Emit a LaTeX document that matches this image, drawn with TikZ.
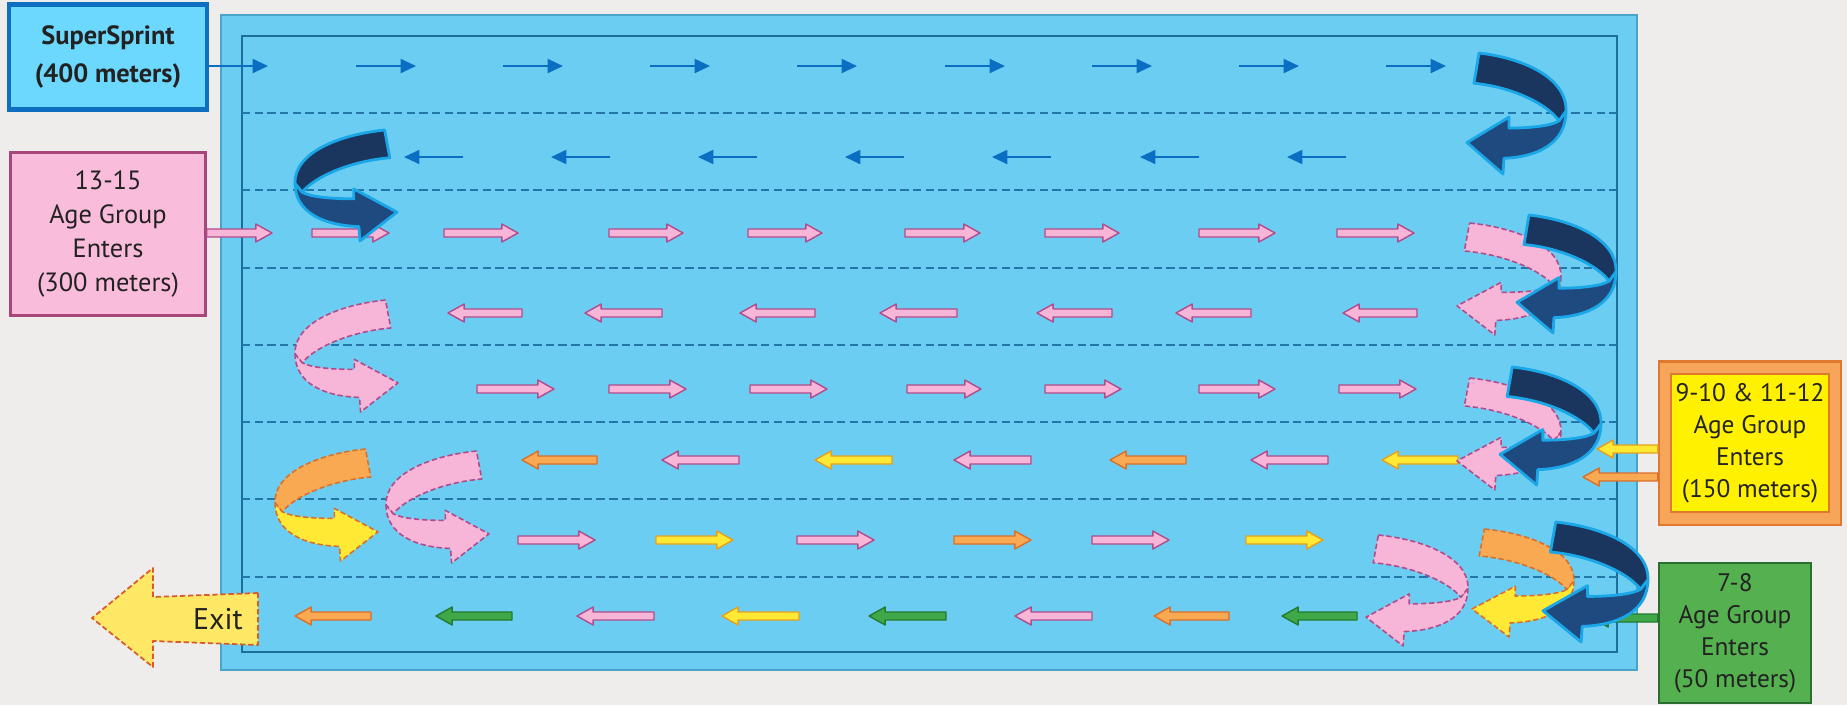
\documentclass[tikz,border=0pt]{standalone}
\usepackage{fontspec}
\setmainfont{PT Sans}
\usepackage{tikz}
\usetikzlibrary{calc,arrows.meta}

\definecolor{bg}{HTML}{EEEDEB}
\definecolor{pool}{HTML}{6CCDF2}
\definecolor{pooledge}{HTML}{4AA3C8}
\definecolor{poolline}{HTML}{1E6E9C}
\definecolor{laneblue}{HTML}{2576A8}
\definecolor{arrowblue}{HTML}{0A6FC2}
\definecolor{navyA}{HTML}{1A365F}
\definecolor{navyB}{HTML}{1F4A80}
\definecolor{navyline}{HTML}{1AA7E8}
\definecolor{pk}{HTML}{F7B5D7}
\definecolor{pkline}{HTML}{B04C8C}
\definecolor{orA}{HTML}{F8A951}
\definecolor{orline}{HTML}{D9702C}
\definecolor{ye}{HTML}{FFE935}
\definecolor{yeline}{HTML}{E5A020}
\definecolor{gr}{HTML}{3FA849}
\definecolor{grline}{HTML}{237A30}
\definecolor{superfill}{HTML}{6DD8FE}
\definecolor{superline}{HTML}{0E6FC0}
\definecolor{teenfill}{HTML}{F9BCDA}
\definecolor{teenline}{HTML}{A8457B}
\definecolor{midframe}{HTML}{F7A55A}
\definecolor{midframeline}{HTML}{E0782E}
\definecolor{midfill}{HTML}{FFF100}
\definecolor{youngfill}{HTML}{55B04F}
\definecolor{youngline}{HTML}{2C6E2F}
\definecolor{exitfill}{HTML}{FFE866}
\definecolor{exitline}{HTML}{D95B2B}
\definecolor{textdark}{HTML}{222222}

% straight lane arrow: from, to, fill, outline
\newcommand\fatarrow[4]{%
	\filldraw[fill=#3, draw=#4, line width=0.4pt, line join=round]
		($(#1)+(0,-4)$) -- ($(#2)!4.6pt!(#1)+(0,-4)$) -- ($(#2)!4.6pt!(#1)+(0,-9)$) -- (#2)
		-- ($(#2)!4.6pt!(#1)+(0,9)$) -- ($(#2)!4.6pt!(#1)+(0,4)$) -- ($(#1)+(0,4)$) -- cycle;}

% turn at the wall: x, y, width (negative = mirrored), height, upper colour, lower colour, style
\newcommand\uturn[7]{%
	\begin{scope}[shift={(#1,#2)}, xscale=#3, yscale=#4, #7]
		\filldraw[fill=#6] (0.99,0.48) .. controls (0.99,0.75) and (0.7,0.86) .. (0.37,0.87) -- (0.36,1) -- (0,0.74)
			-- (0.42,0.53) -- (0.42,0.62) .. controls (0.65,0.62) and (0.85,0.6) .. (0.92,0.56) -- cycle;
		\filldraw[fill=#5] (0.12,0) .. controls (0.55,0.04) and (1,0.2) .. (0.99,0.48) -- (0.92,0.56)
			.. controls (0.8,0.42) and (0.45,0.28) .. (0.07,0.25) -- cycle;
	\end{scope}}

\tikzset{
	laneline/.style={draw=laneblue, line width=0.6pt, dash pattern=on 2.4pt off 1.2pt},
	lanearrow/.style={draw=arrowblue, line width=0.6pt, -{Triangle[length=4.4pt, width=4pt]}},
	navyturn/.style={draw=navyline, line width=0.8pt, line join=round},
	pinkturn/.style={draw=pkline, line width=0.45pt, dash pattern=on 1.5pt off 0.8pt, line join=round},
	orangeturn/.style={draw=orline, line width=0.45pt, dash pattern=on 1.5pt off 0.8pt, line join=round},
	agebox/.style={rectangle, align=center, text=textdark, inner sep=0pt},
}

\begin{document}
\begin{tikzpicture}[x=0.01cm, y=-0.01cm]
	\useasboundingbox (0,0) rectangle (1847,705);
	\fill[bg] (0,0) rectangle (1847,705);

	% pool
	\filldraw[fill=pool, draw=pooledge, line width=0.5pt] (221,15) rectangle (1637,670);
	\draw[poolline, line width=0.75pt] (242,36) rectangle (1617,652);
	\foreach \y in {113,190,268,345,422,499,577}
		\draw[laneline] (242,\y) -- (1617,\y);

	% lanes 1 and 2
	\foreach \s in {356,503,650,797,945,1092,1239,1386}
		\draw[lanearrow] (\s,66) -- (\s+60,66);
	\foreach \h in {404,551,698,845,992,1140,1287}
		\draw[lanearrow] (\h+59,157) -- (\h,157);

	% lanes 3 to 5
	\foreach \s/\e in {312/389,444/518,609/683,748/822,905/980,1045/1119,1199/1275,1337/1414}
		\fatarrow{\s,233}{\e,233}{pk}{pkline};
	\foreach \s/\e in {448/522,585/662,740/815,880/957,1037/1112,1176/1251,1343/1417}
		\fatarrow{\e,313}{\s,313}{pk}{pkline};
	\foreach \s/\e in {477/554,609/686,750/827,907/981,1045/1121,1199/1275,1339/1416}
		\fatarrow{\s,389}{\e,389}{pk}{pkline};

	% lanes 6 to 8
	\foreach \s/\e/\f/\l in {522/597/orA/orline,662/739/pk/pkline,815/892/ye/yeline,954/1031/pk/pkline,
			1110/1186/orA/orline,1251/1328/pk/pkline,1382/1458/ye/yeline}
		\fatarrow{\e,460}{\s,460}{\f}{\l};
	\foreach \s/\e/\f/\l in {518/595/pk/pkline,656/733/ye/yeline,797/874/pk/pkline,954/1031/orA/orline,
			1092/1169/pk/pkline,1246/1323/ye/yeline}
		\fatarrow{\s,540}{\e,540}{\f}{\l};
	\foreach \s/\e/\f/\l in {295/371/orA/orline,436/512/gr/grline,577/654/pk/pkline,722/799/ye/yeline,
			869/946/gr/grline,1015/1092/pk/pkline,1154/1229/orA/orline,1282/1357/gr/grline}
		\fatarrow{\e,616}{\s,616}{\f}{\l};

	% entry boxes
	\node[agebox, fill=superfill, draw=superline, line width=1.2pt, minimum width=1.98cm, minimum height=1.05cm,
		font=\bfseries\fontsize{7.5}{10.8}\selectfont] (super) at (108,57) {SuperSprint\\(400 meters)};
	\node[agebox, fill=teenfill, draw=teenline, line width=0.7pt, minimum width=1.95cm, minimum height=1.63cm,
		font=\fontsize{7.5}{9.7}\selectfont] (teen) at (108,234) {13-15\\Age Group\\Enters\\(300 meters)};
	\node[agebox, fill=midframe, draw=midframeline, line width=0.6pt, minimum width=1.82cm, minimum height=1.63cm] (midout) at (1750,443) {};
	\node[agebox, fill=midfill, draw=midframeline, line width=0.6pt, minimum width=1.58cm, minimum height=1.38cm,
		font=\fontsize{7.2}{9.1}\selectfont] (mid) at (midout) {9-10 \& 11-12\\Age Group\\Enters\\(150 meters)};
	\node[agebox, fill=youngfill, draw=youngline, line width=0.7pt, minimum width=1.52cm, minimum height=1.40cm,
		font=\fontsize{7.2}{9.1}\selectfont] (young) at (1735,633) {7-8\\Age Group\\Enters\\(50 meters)};

	% entries
	\coordinate (in1) at (268,66);
	\coordinate (in3) at (272,233);
	\coordinate (in6a) at (1597,449);
	\coordinate (in6b) at (1583,477);
	\coordinate (in8) at (1592,618);
	\draw[lanearrow] (super.east |- in1) -- (in1);
	\fatarrow{teen.east |- in3}{in3}{pk}{pkline};
	\fatarrow{midout.west |- in6a}{in6a}{ye}{yeline};
	\fatarrow{midout.west |- in6b}{in6b}{orA}{orline};
	\fatarrow{young.west |- in8}{in8}{gr}{grline};

	% turns
	\uturn{1467}{53}{100}{121}{navyA}{navyB}{navyturn}
	\uturn{397}{130}{-103}{111}{navyA}{navyB}{navyturn}
	\uturn{1457}{223}{105}{112}{pk}{pk}{pinkturn}
	\uturn{1517}{215}{100}{118}{navyA}{navyB}{navyturn}
	\uturn{398}{300}{-104}{112}{pk}{pk}{pinkturn}
	\uturn{1457}{378}{105}{112}{pk}{pk}{pinkturn}
	\uturn{1500}{367}{102}{118}{navyA}{navyB}{navyturn}
	\uturn{378}{449}{-104}{112}{orA}{ye}{orangeturn}
	\uturn{489}{451}{-104}{112}{pk}{pk}{pinkturn}
	\uturn{1366}{535}{103}{111}{pk}{pk}{pinkturn}
	\uturn{1472}{529}{103}{108}{orA}{ye}{orangeturn}
	\uturn{1543}{522}{106}{120}{navyA}{navyB}{navyturn}

	% exit
	\filldraw[fill=exitfill, draw=exitline, line width=0.5pt, dash pattern=on 1.5pt off 0.8pt, line join=round]
		(258,593) -- (153,597) -- (153,568) -- (92,618) -- (153,667) -- (153,641) -- (258,645) -- cycle;
	\node[text=textdark, font=\fontsize{8.5}{10}\selectfont] (exit) at (218,619) {Exit};
\end{tikzpicture}
\end{document}
